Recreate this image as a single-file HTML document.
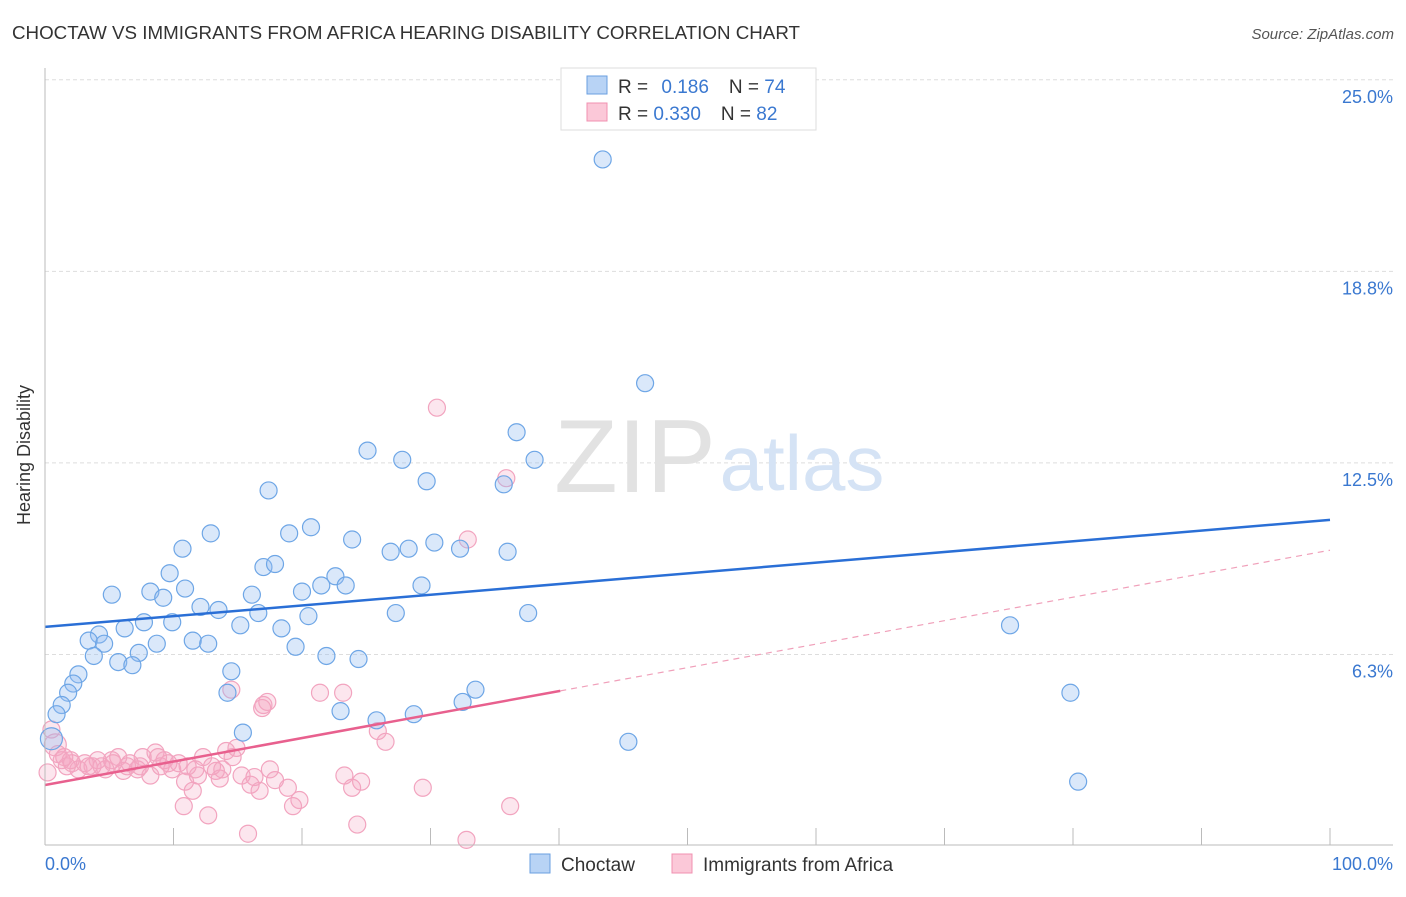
<!DOCTYPE html>
<html><head><meta charset="utf-8"><style>
body{margin:0;background:#fff;font-family:"Liberation Sans",sans-serif;}
svg text{font-family:"Liberation Sans",sans-serif;}
</style></head><body>
<svg width="1406" height="892" viewBox="0 0 1406 892">
<text x="12" y="39" font-size="18" fill="#333" textLength="788" lengthAdjust="spacingAndGlyphs">CHOCTAW VS IMMIGRANTS FROM AFRICA HEARING DISABILITY CORRELATION CHART</text>
<text x="1394" y="39" font-size="15" fill="#555" font-style="italic" text-anchor="end">Source: ZipAtlas.com</text>
<g id="grid"></g>
<text x="635" y="492" font-size="104" fill="#e2e2e2" text-anchor="middle" font-family="Liberation Serif">ZIP</text>
<text x="802" y="490" font-size="78" fill="#d5e3f5" text-anchor="middle">atlas</text>
<g id="pts"></g>
<g id="lines"></g>
<line x1="45" y1="68" x2="45" y2="845" stroke="#bbb"/>
<line x1="45" y1="845" x2="1393" y2="845" stroke="#bbb"/>
<text x="30" y="455" font-size="18" fill="#333" text-anchor="middle" transform="rotate(-90 30 455)">Hearing Disability</text>
<text x="45" y="870" font-size="18" fill="#3a78d0">0.0%</text>
<text x="1393" y="870" font-size="18" fill="#3a78d0" text-anchor="end">100.0%</text>
<g>
<rect x="561" y="68" width="255" height="62" fill="#fff" stroke="#ddd"/>
<rect x="587" y="76" width="20" height="18" fill="#b8d3f5" stroke="#6a9fe0"/>
<rect x="587" y="103" width="20" height="18" fill="#fbc8d8" stroke="#f090b0"/>
<text x="618" y="93" font-size="19" fill="#333">R = <tspan fill="#3a78d0" dx="8">0.186</tspan><tspan dx="20" fill="#333">N = </tspan><tspan fill="#3a78d0">74</tspan></text>
<text x="618" y="120" font-size="19" fill="#333">R = <tspan fill="#3a78d0">0.330</tspan><tspan dx="20" fill="#333">N = </tspan><tspan fill="#3a78d0">82</tspan></text>
</g>
<g>
<rect x="530" y="854" width="20" height="19" fill="#b8d3f5" stroke="#6a9fe0"/>
<text x="561" y="871" font-size="19" fill="#333">Choctaw</text>
<rect x="672" y="854" width="20" height="19" fill="#fbc8d8" stroke="#f090b0"/>
<text x="703" y="871" font-size="19" fill="#333">Immigrants from Africa</text>
</g>
</svg>
<script>
const yTicks=[25,18.75,12.5,6.25];
const yTickLabels=["25.0%","18.8%","12.5%","6.3%"];
const xTicks=[10,20,30,40,50,60,70,80,90,100];
const choctawX=[43.4,46.7,36.7,25.1,27.8,38.1,29.7,35.7,17.4,12.9,19.0,20.7,23.9,30.3,28.3,26.9,32.3,36.0,10.7,17.0,17.9,9.7,22.6,21.5,23.4,29.3,10.9,20.0,8.2,9.2,5.2,16.1,12.1,13.5,16.6,20.5,27.3,37.6,7.7,9.9,15.2,6.2,18.4,4.2,3.4,4.6,11.5,12.7,8.7,19.5,7.3,3.8,5.7,6.8,21.9,24.4,14.5,2.6,2.2,1.8,14.2,33.5,32.5,1.3,23.0,28.7,0.9,25.8,15.4,45.4,75.1,79.8,80.4,0.5];
const choctawY=[22.4,15.1,13.5,12.9,12.6,12.6,11.9,11.8,11.6,10.2,10.2,10.4,10.0,9.9,9.7,9.6,9.7,9.6,9.7,9.1,9.2,8.9,8.8,8.5,8.5,8.5,8.4,8.3,8.3,8.1,8.2,8.2,7.8,7.7,7.6,7.5,7.6,7.6,7.3,7.3,7.2,7.1,7.1,6.9,6.7,6.6,6.7,6.6,6.6,6.5,6.3,6.2,6.0,5.9,6.2,6.1,5.7,5.6,5.3,5.0,5.0,5.1,4.7,4.6,4.4,4.3,4.3,4.1,3.7,3.4,7.2,5.0,2.1,3.5];
const africaX=[30.5,35.9,32.9,14.5,21.4,23.2,17.0,17.3,16.9,25.9,26.5,0.5,0.8,1.0,1.3,1.7,2.1,2.6,3.1,3.7,4.1,4.7,5.2,5.7,6.1,6.6,7.2,7.6,8.2,8.6,9.0,9.3,9.9,10.4,10.9,11.1,11.5,11.9,12.3,13.0,13.3,13.6,14.1,14.6,14.9,15.3,16.0,16.3,16.7,17.9,18.9,19.8,19.3,23.3,23.9,24.6,29.4,36.2,24.3,15.8,32.8,10.8,12.7,0.2,7.4,5.3,8.8,11.7,17.5,2.0,3.4,6.4,9.6,13.8,1.5,4.4];
const africaY=[14.3,12.0,10.0,5.1,5.0,5.0,4.6,4.7,4.5,3.75,3.4,3.8,3.3,3.0,2.8,2.6,2.7,2.5,2.7,2.6,2.8,2.5,2.8,2.9,2.45,2.7,2.5,2.9,2.3,3.05,2.6,2.8,2.5,2.7,2.1,2.6,1.8,2.3,2.9,2.6,2.45,2.2,3.1,2.9,3.2,2.3,2.0,2.25,1.8,2.15,1.9,1.5,1.3,2.3,1.9,2.1,1.9,1.3,0.7,0.4,0.2,1.3,1.0,2.4,2.6,2.7,2.9,2.5,2.5,2.8,2.6,2.6,2.7,2.5,2.9,2.6];
const trendIntercepts=[7.15,1.99];
const trendSlopes=[0.0349,0.0766];
const solidEnd=[100,40.1];
const NS='http://www.w3.org/2000/svg';
const sx=v=>45+v*12.85, sy=v=>846-v*30.65;
function mk(t,a,p){const e=document.createElementNS(NS,t);for(const k in a)e.setAttribute(k,a[k]);p.appendChild(e);return e;}
const grid=document.getElementById('grid');
yTicks.forEach((t,i)=>{
 const l=mk('line',{x1:45,x2:1393,y1:sy(t),y2:sy(t),stroke:'#ddd','stroke-dasharray':'4,3'},grid);
 
 
 const tx=mk('text',{x:1393,y:sy(t)+23,'font-size':18,fill:'#3a78d0','text-anchor':'end'},grid);
 tx.textContent=yTickLabels[i];
 
 
});
xTicks.forEach(t=>{
 const l=mk('line',{x1:sx(t),x2:sx(t),y1:828,y2:845,stroke:'#bbb'},grid);
 
 
});
const pts=document.getElementById('pts');
africaX.forEach((x,i)=>{
 const c=mk('circle',{cx:sx(x),cy:sy(africaY[i]),r:i===12?11:8.5,fill:'rgba(245,165,195,0.28)',stroke:'#f2a4bf','stroke-width':1.2},pts);
 
 
});
choctawX.forEach((x,i)=>{
 const c=mk('circle',{cx:sx(x),cy:sy(choctawY[i]),r:i===73?11:8.5,fill:'rgba(150,190,240,0.35)',stroke:'#6ea6e6','stroke-width':1.2},pts);
 
 
});
const lines=document.getElementById('lines');
const cols=['#2a6fd6','#e8608e'];
[0,1].forEach(i=>{
 const b=trendIntercepts[i],m=trendSlopes[i],e=solidEnd[i];
 const l=mk('line',{x1:sx(0),y1:sy(b),x2:sx(e),y2:sy(b+m*e),stroke:cols[i],'stroke-width':2.5},lines);
 
 
 if(e<100){
  const d=mk('line',{x1:sx(e),y1:sy(b+m*e),x2:sx(100),y2:sy(b+m*100),stroke:'#f0a0ba','stroke-width':1.2,'stroke-dasharray':'6,5'},lines);
  
  
 }
});
</script>
</body></html>
